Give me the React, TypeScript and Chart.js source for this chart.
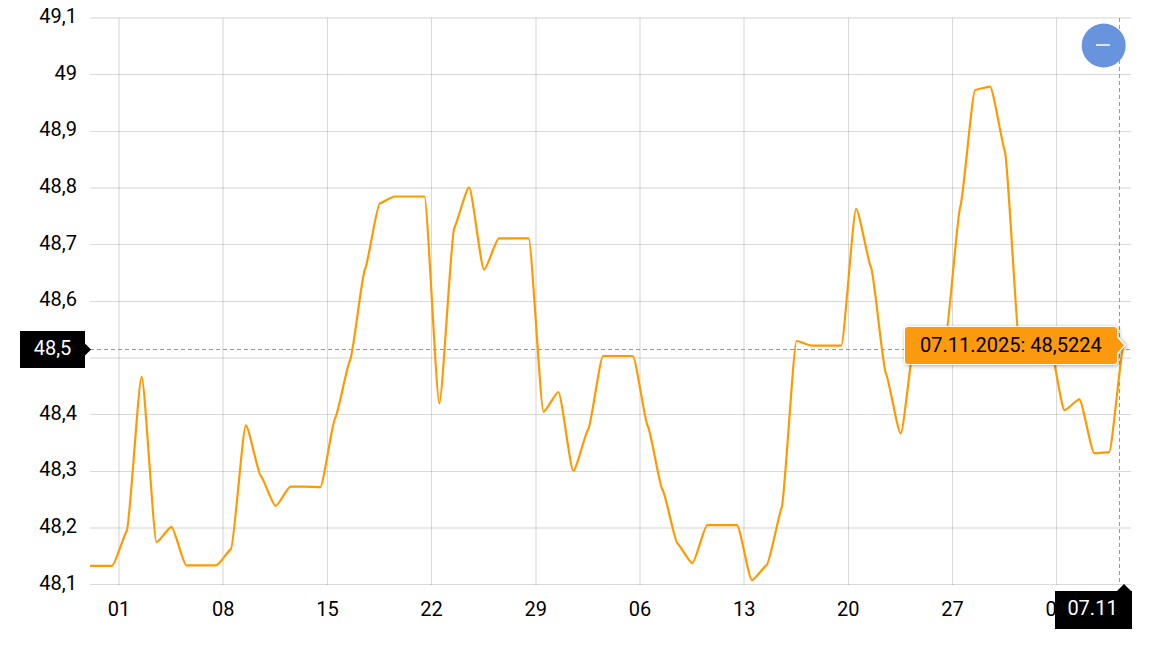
import React, { useEffect, useRef } from "react";
import { Chart, registerables } from "chart.js";

Chart.register(...registerables);

// Daily rate readings, 29.08.2025 to 07.11.2025
const rateValues: number[] = [
  48.133, 48.133, 48.133, 48.195, 48.467, 48.175, 48.202, 48.134, 48.134, 48.134,
  48.163, 48.381, 48.292, 48.239, 48.273, 48.273, 48.272, 48.394, 48.496, 48.656,
  48.773, 48.785, 48.785, 48.785, 48.42, 48.729, 48.801, 48.656, 48.711, 48.711,
  48.711, 48.405, 48.44, 48.301, 48.374, 48.5035, 48.5035, 48.5035, 48.38, 48.267,
  48.173, 48.138, 48.205, 48.205, 48.205, 48.108, 48.135, 48.236, 48.53, 48.522,
  48.522, 48.522, 48.763, 48.66, 48.473, 48.367, 48.54, 48.54, 48.54, 48.767,
  48.973, 48.979, 48.864, 48.523, 48.523, 48.523, 48.408, 48.427, 48.332, 48.334,
  48.5224,
];
const xTickLabels: string[] = ["01", "08", "15", "22", "29", "06", "13", "20", "27", "03"];
const xTickDays: number[] = [1, 8, 15, 22, 29, 36, 43, 50, 57, 64];
const firstReadingDay = -2;
const readingHour = 0.52;
const xMin = -0.95;
const xMax = 68.99;
const yMin = 48.1;
const yMax = 49.1;
const yStep = 0.1;
const cursorDay = 68.22;
const cursorValue = 48.515;
const cursorYLabel = "48,5";
const cursorXLabel = "07.11";
const tooltipText = "07.11.2025: 48,5224";

const FONT = "Roboto";
const FONT_SIZE = 20;
const LINE = "#ff9900";
const TOOLTIP = "#fb990f";
const BUTTON = "#6794dc";
const HANDLE_SCALE = 0.6;
const SLOPE_SCALE = 0.3;

// Monotone tangents with short, shallow handles: a small step stays at each reading.
function applyTangents(points: any[]) {
  const n = points.length;
  const slopes: number[] = new Array(n).fill(0);
  for (let i = 1; i < n - 1; i++) {
    const a = points[i - 1], b = points[i], c = points[i + 1];
    const h0 = b.x - a.x, h1 = c.x - b.x;
    const s0 = (b.y - a.y) / h0, s1 = (c.y - b.y) / h1;
    const p = (s0 * h1 + s1 * h0) / (h0 + h1);
    slopes[i] = (Math.sign(s0) + Math.sign(s1)) * Math.min(Math.abs(s0), Math.abs(s1), 0.5 * Math.abs(p)) || 0;
  }
  for (let i = 0; i < n; i++) {
    const p = points[i];
    const before = i > 0 ? ((p.x - points[i - 1].x) / 3) * HANDLE_SCALE : 0;
    const after = i < n - 1 ? ((points[i + 1].x - p.x) / 3) * HANDLE_SCALE : 0;
    const m = slopes[i] * SLOPE_SCALE;
    p.cp1x = p.x - before;
    p.cp1y = p.y - before * m;
    p.cp2x = p.x + after;
    p.cp2y = p.y + after * m;
  }
}

// Grid lines fall between device pixels in the reference: such lines spread over two pixels.
function straddles(ctx: any) {
  const px = ctx.scale.getPixelForTick(ctx.index);
  const frac = px - Math.floor(px);
  return !(Math.abs(frac - 0.5) < 0.25);
}
const gridOptions = {
  drawTicks: false,
  lineWidth: (ctx: any) => (straddles(ctx) ? 2 : 1),
  color: (ctx: any) => (straddles(ctx) ? "rgba(0,0,0,0.085)" : "rgba(0,0,0,0.15)"),
};

const overlay = {
  id: "overlay",
  beforeDraw(chart: any) {
    const { ctx, width, height } = chart;
    ctx.save();
    ctx.fillStyle = "#ffffff";
    ctx.fillRect(0, 0, width, height);
    ctx.restore();
  },
  beforeDatasetsDraw(chart: any) {
    const { ctx, chartArea, scales } = chart;
    const line = chart.getDatasetMeta(0).dataset;
    line.updateControlPoints(chartArea, "x");
    applyTangents(line.points);
    const cx = Math.floor(scales.x.getPixelForValue(cursorDay)) + 0.5;
    const cy = Math.floor(scales.y.getPixelForValue(cursorValue)) + 0.5;
    ctx.save();
    ctx.strokeStyle = "#999999";
    ctx.lineWidth = 1;
    ctx.setLineDash([4, 3]);
    ctx.beginPath();
    ctx.moveTo(chartArea.left, cy);
    ctx.lineTo(chartArea.right, cy);
    ctx.moveTo(cx, chartArea.top);
    ctx.lineTo(cx, chartArea.bottom);
    ctx.stroke();
    ctx.restore();
  },
  afterDraw(chart: any) {
    const { ctx, scales } = chart;
    const data = chart.getDatasetMeta(0).data;
    const last = data[data.length - 1];
    const cy = Math.floor(scales.y.getPixelForValue(cursorValue)) + 0.5;
    ctx.save();
    ctx.font = `${FONT_SIZE}px ${FONT}`;
    ctx.textBaseline = "middle";
    ctx.textAlign = "center";

    // zoom-out button
    ctx.fillStyle = BUTTON;
    ctx.beginPath();
    ctx.arc(1103.7, 45.5, 22, 0, Math.PI * 2);
    ctx.fill();
    ctx.strokeStyle = "#ffffff";
    ctx.lineWidth = 1.5;
    ctx.beginPath();
    ctx.moveTo(1096, 45);
    ctx.lineTo(1110, 45);
    ctx.stroke();

    // y axis cursor label
    ctx.fillStyle = "#000000";
    ctx.fillRect(20, cy - 18.5, 65, 37);
    ctx.beginPath();
    ctx.moveTo(85, cy - 6);
    ctx.lineTo(91, cy);
    ctx.lineTo(85, cy + 6);
    ctx.closePath();
    ctx.fill();
    ctx.fillStyle = "#ffffff";
    ctx.fillText(cursorYLabel, 52.5, cy);

    // x axis cursor label
    ctx.fillStyle = "#000000";
    ctx.fillRect(1055, 591, 77, 38);
    ctx.beginPath();
    ctx.moveTo(last.x - 7, 591);
    ctx.lineTo(last.x, 584);
    ctx.lineTo(last.x + 7, 591);
    ctx.closePath();
    ctx.fill();
    ctx.fillStyle = "#ffffff";
    ctx.fillText(cursorXLabel, 1092.5, 610);

    // value tooltip
    const bx = 905, by = 327, bw = 212, bh = 37;
    ctx.save();
    ctx.shadowColor = "rgba(0,0,0,0.35)";
    ctx.shadowBlur = 4;
    ctx.shadowOffsetY = 1;
    ctx.shadowOffsetX = 1;
    ctx.fillStyle = "#ffffff";
    ctx.beginPath();
    ctx.moveTo(bx + 3 - 1, by - 1);
    ctx.lineTo(bx + bw - 3 + 1, by - 1);
    ctx.arcTo(bx + bw + 1, by - 1, bx + bw + 1, by + 3, 4);
    ctx.lineTo(bx + bw + 1, last.y - 9);
    ctx.lineTo(last.x + 2, last.y);
    ctx.lineTo(bx + bw + 1, last.y + 9);
    ctx.lineTo(bx + bw + 1, by + bh - 3);
    ctx.arcTo(bx + bw + 1, by + bh + 1, bx + bw - 3, by + bh + 1, 4);
    ctx.lineTo(bx + 3, by + bh + 1);
    ctx.arcTo(bx - 1, by + bh + 1, bx - 1, by + bh - 3, 4);
    ctx.lineTo(bx - 1, by + 3);
    ctx.arcTo(bx - 1, by - 1, bx + 3, by - 1, 4);
    ctx.closePath();
    ctx.fill();
    ctx.restore();
    ctx.fillStyle = TOOLTIP;
    ctx.beginPath();
    ctx.moveTo(bx + 3, by);
    ctx.lineTo(bx + bw - 3, by);
    ctx.arcTo(bx + bw, by, bx + bw, by + 3, 3);
    ctx.lineTo(bx + bw, last.y - 8);
    ctx.lineTo(last.x, last.y);
    ctx.lineTo(bx + bw, last.y + 8);
    ctx.lineTo(bx + bw, by + bh - 3);
    ctx.arcTo(bx + bw, by + bh, bx + bw - 3, by + bh, 3);
    ctx.lineTo(bx + 3, by + bh);
    ctx.arcTo(bx, by + bh, bx, by + bh - 3, 3);
    ctx.lineTo(bx, by + 3);
    ctx.arcTo(bx, by, bx + 3, by, 3);
    ctx.closePath();
    ctx.fill();
    ctx.fillStyle = "#000000";
    ctx.textAlign = "left";
    ctx.fillText(tooltipText, 920, 346.5);
    ctx.restore();
  },
};

export default function App() {
  const ref = useRef<HTMLCanvasElement>(null);
  useEffect(() => {
    document.body.style.margin = "0";
    const canvas = ref.current!;
    canvas.getContext("2d", { alpha: false });
    const chart = new Chart(canvas, {
      type: "line",
      data: {
        datasets: [
          {
            data: rateValues.map((y, i) => ({ x: firstReadingDay + i + readingHour, y })),
            borderColor: LINE,
            borderWidth: 2.2,
            pointRadius: 0,
            fill: false,
            cubicInterpolationMode: "monotone",
          },
        ],
      },
      options: {
        responsive: false,
        animation: false,
        events: [],
        layout: { autoPadding: false, padding: { top: 18, right: 33, left: 0, bottom: 0 } },
        plugins: { legend: { display: false }, tooltip: { enabled: false } },
        scales: {
          x: {
            type: "linear",
            min: xMin,
            max: xMax,
            afterBuildTicks(scale: any) {
              scale.ticks = xTickDays.map((value) => ({ value }));
            },
            afterFit(scale: any) {
              scale.height = 63.33;
              scale.paddingLeft = 0;
              scale.paddingRight = 0;
            },
            border: { display: false },
            grid: gridOptions,
            ticks: {
              autoSkip: false,
              maxRotation: 0,
              padding: 14,
              color: "#000000",
              font: { family: FONT, size: FONT_SIZE },
              callback: (_v: any, i: number) => xTickLabels[i],
            },
          },
          y: {
            min: yMin,
            max: yMax,
            afterFit(scale: any) {
              scale.width = 90;
              scale.paddingTop = 0;
              scale.paddingBottom = 0;
            },
            border: { display: false },
            grid: gridOptions,
            ticks: {
              stepSize: yStep,
              padding: 13,
              color: "#000000",
              font: { family: FONT, size: FONT_SIZE },
              callback: (v: any) => String(Number(Number(v).toFixed(1))).replace(".", ","),
            },
          },
        },
      },
      plugins: [overlay],
    } as any);
    return () => chart.destroy();
  }, []);
  return (
    <div style={{ width: 1164, height: 648 }}>
      <canvas ref={ref} width={1164} height={648} style={{ display: "block" }} />
    </div>
  );
}
